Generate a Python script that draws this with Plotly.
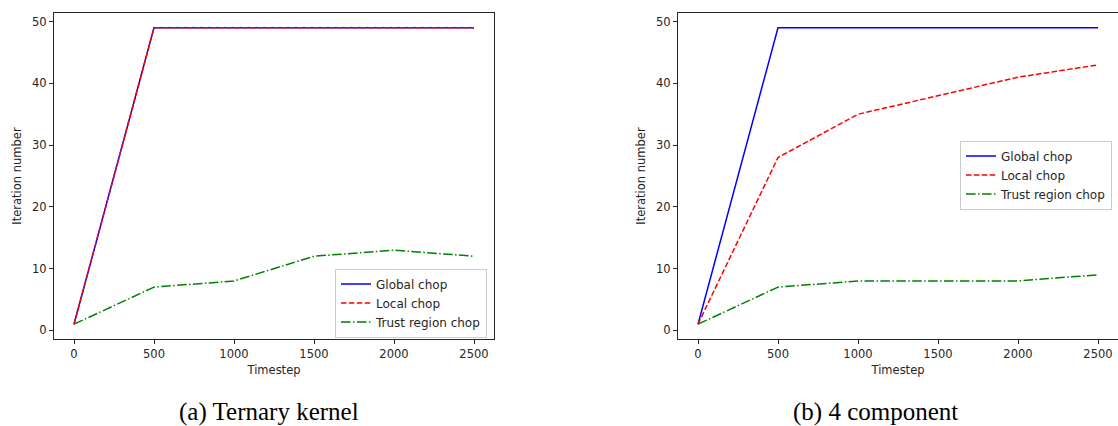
import plotly.graph_objects as go

timesteps = [0, 500, 1000, 1500, 2000, 2500]

# Panel (a) Ternary kernel
a_global = [1, 49, 49, 49, 49, 49]
a_local = [1, 49, 49, 49, 49, 49]
a_trust = [1, 7, 8, 12, 13, 12]

# Panel (b) 4 component
b_global = [1, 49, 49, 49, 49, 49]
b_local = [1, 28, 35, 38, 41, 43]
b_trust = [1, 7, 8, 8, 8, 9]

series_names = ["Global chop", "Local chop", "Trust region chop"]
captions = ["(a) Ternary kernel", "(b) 4 component"]
x_ticks = [0, 500, 1000, 1500, 2000, 2500]
y_ticks = [0, 10, 20, 30, 40, 50]

colors = ["#0000ff", "#ff0000", "#008000"]
dashes = ["solid", "5.5px,2.4px", "9.6px,2.4px,1.5px,2.4px"]

fig = go.Figure()

panels = [
    ([a_global, a_local, a_trust], "x", "y", "legend"),
    ([b_global, b_local, b_trust], "x2", "y2", "legend2"),
]
for series, xa, ya, lg in panels:
    for name, vals, c, d in zip(series_names, series, colors, dashes):
        fig.add_trace(go.Scatter(
            x=timesteps, y=vals, mode="lines", name=name,
            line=dict(color=c, width=1.5, dash=d),
            xaxis=xa, yaxis=ya, legend=lg,
        ))

W, H = 1118, 426
font = dict(family="DejaVu Sans", size=12, color="#262626")
tfont = dict(family="DejaVu Sans", size=11.5, color="#262626")
axis_common = dict(
    showline=True, mirror=True, linecolor="#262626", linewidth=1,
    showgrid=False, zeroline=False, ticks="outside", ticklen=4,
    tickcolor="#262626", tickwidth=1, tickfont=tfont,
)
ydom = [1 - 339 / H, 1 - 13 / H]

fig.update_layout(
    width=W, height=H,
    margin=dict(l=0, r=0, t=0, b=0),
    paper_bgcolor="white", plot_bgcolor="white",
    font=font,
    xaxis=dict(domain=[54 / W, 494 / W], range=[-125, 2625], tickvals=x_ticks,
               title=dict(text="Timestep", font=tfont, standoff=6), anchor="y", **axis_common),
    yaxis=dict(domain=ydom, range=[-1.4, 51.4], tickvals=y_ticks,
               title=dict(text="Iteration number", font=tfont, standoff=8), anchor="x", **axis_common),
    xaxis2=dict(domain=[678 / W, 1.0], range=[-125, 2625], tickvals=x_ticks,
                title=dict(text="Timestep", font=tfont, standoff=6), anchor="y2", **axis_common),
    yaxis2=dict(domain=ydom, range=[-1.4, 51.4], tickvals=y_ticks,
                title=dict(text="Iteration number", font=tfont, standoff=8), anchor="x2", **axis_common),
    legend=dict(x=335 / W, y=1 - 303 / H, xanchor="left", yanchor="middle",
                bgcolor="rgba(255,255,255,0.8)", bordercolor="#cccccc", borderwidth=1,
                font=font, tracegroupgap=0, itemwidth=30),
    legend2=dict(x=960 / W, y=1 - 175 / H, xanchor="left", yanchor="middle",
                 bgcolor="rgba(255,255,255,0.8)", bordercolor="#cccccc", borderwidth=1,
                 font=font, tracegroupgap=0, itemwidth=30),
    showlegend=True,
)

for cap, cx in zip(captions, [269, 875]):
    fig.add_annotation(text=cap, x=cx / W, y=1 - 412 / H, xref="paper", yref="paper",
                       xanchor="center", yanchor="middle", showarrow=False,
                       font=dict(family="Liberation Serif", size=25, color="black"))

fig.write_html("out.html")
